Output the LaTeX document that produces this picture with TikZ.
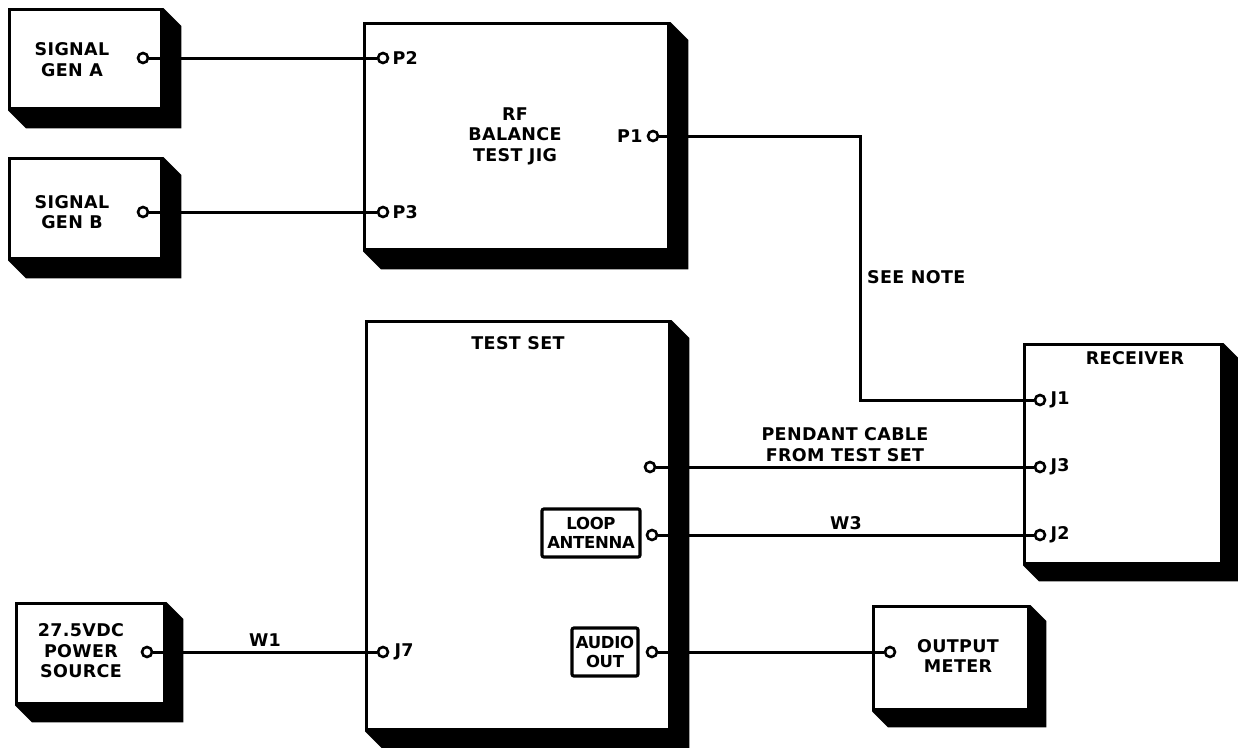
\documentclass[tikz,border=0pt]{standalone}
\usepackage{fontspec}
\setmainfont{DejaVu Sans}[LetterSpace=2]
\usetikzlibrary{calc,positioning,backgrounds}
\newcommand\dropshade[2]{\fill (#1.north east) -- ++(#2,#2) -- ($(#1.south east)+(#2,#2)$) -- ($(#1.south west)+(#2,#2)$) -- (#1.south west) -- cycle;}
\tikzset{
  unit/.style={draw, line width=3.4pt, fill=white, inner sep=0pt, anchor=north west},
  port/.style={circle, draw, line width=2.6pt, fill=white, minimum size=10pt, inner sep=0pt},
  wire/.style={line width=3pt},
  txt/.style={font=\bfseries\fontsize{17.5}{20.5}\selectfont, align=center, inner sep=1pt},
  tag/.style={draw, line width=3.2pt, rounded corners=2pt, align=center, inner sep=1pt,
    font=\bfseries\addfontfeature{LetterSpace=-2}\fontsize{16.5}{19.5}\selectfont},
}
\begin{document}
\begin{tikzpicture}[x=1pt,y=-1pt]
\useasboundingbox (0,0) rectangle (1238,747);
% units
\node[unit, minimum width=152, minimum height=99] (sga) at (8,8) {};
\node[unit, minimum width=152, minimum height=100] (sgb) at (8,157) {};
\node[unit, minimum width=304, minimum height=226] (jig) at (363,22) {};
\node[unit, minimum width=303, minimum height=408] (test) at (365,320) {};
\node[unit, minimum width=197, minimum height=219] (rcv) at (1023,343) {};
\node[unit, minimum width=148, minimum height=100] (pwr) at (15,602) {};
\node[unit, minimum width=155, minimum height=103] (meter) at (872,605) {};
\begin{pgfonlayer}{background}
\dropshade{sga}{18}
\dropshade{sgb}{18}
\dropshade{jig}{18}
\dropshade{test}{18}
\dropshade{rcv}{16}
\dropshade{pwr}{17}
\dropshade{meter}{16}
\end{pgfonlayer}
% unit texts
\node[txt] (sgat) at (72,59.5) {SIGNAL\\GEN A};
\node[txt] (sgbt) at (72,212) {SIGNAL\\GEN B};
\node[txt] (jigt) at (515,136) {RF\\BALANCE\\TEST JIG};
\node[txt] (testt) at (518,343) {TEST SET};
\node[txt] (rcvt) at (1135,358) {RECEIVER};
\node[txt] (pwrt) at (81,651) {27.5VDC\\POWER\\SOURCE};
\node[txt] (metert) at (958,656) {OUTPUT\\METER};
\node[tag, minimum width=98, minimum height=48] (loop) at (591,533) {LOOP\\ANTENNA};
\node[tag, minimum width=66, minimum height=48] (audio) at (605,652) {AUDIO\\OUT};
% ports
\node[port] (pa) at (143,58) {};
\node[port] (pb) at (143,212) {};
\node[port] (p2) at (383,58) {};
\node[port] (p3) at (383,212) {};
\node[port] (p1) at (653,136) {};
\node[port] (pend) at (650,467) {};
\node[port] (lp) at (652,535) {};
\node[port] (ao) at (652,652) {};
\node[port] (j7) at (383,652) {};
\node[port] (pp) at (147,652) {};
\node[port] (mp) at (890,652) {};
\node[port] (j1) at (1040,400) {};
\node[port] (j3) at (1040,467) {};
\node[port] (j2) at (1040,535) {};
% port labels
\node[txt, right=2pt of p2] (p2t) {P2};
\node[txt, right=2pt of p3] (p3t) {P3};
\node[txt, left=3pt of p1] (p1t) {P1};
\node[txt, right=3pt of j1] (j1t) {J1};
\node[txt, right=3pt of j3] (j3t) {J3};
\node[txt, right=3pt of j2] (j2t) {J2};
\node[txt, right=4pt of j7] (j7t) {J7};
% wires
\coordinate (bend) at (860,400);
\draw[wire] (pa) -- (p2);
\draw[wire] (pb) -- (p3);
\draw[wire] (p1) -| (bend) -- (j1);
\draw[wire] (pend) -- node[txt, above=3pt] (pendt) {PENDANT CABLE\\FROM TEST SET} (j3);
\draw[wire] (lp) -- node[txt, above=3pt] (w3) {W3} (j2);
\draw[wire] (pp) -- node[txt, above=3pt] (w1) {W1} (j7);
\draw[wire] (ao) -- (mp);
\node[txt, anchor=west] (note) at (866,277) {SEE NOTE};
\end{tikzpicture}
\end{document}
